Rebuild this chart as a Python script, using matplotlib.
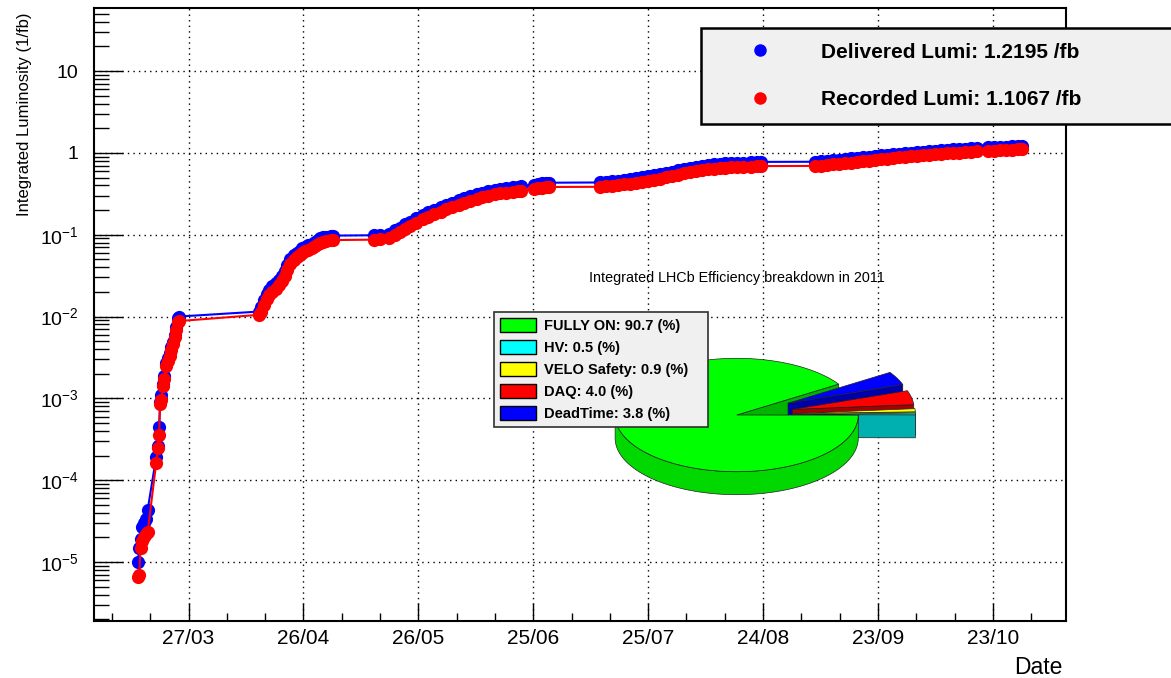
import numpy as np
import matplotlib
matplotlib.use("Agg")
import matplotlib.pyplot as plt
import matplotlib.dates as mdates
from matplotlib.lines import Line2D
from matplotlib.patches import Patch, Polygon
from matplotlib.ticker import FixedLocator, FixedFormatter, NullFormatter

plt.rcParams['font.family'] = ['Liberation Sans', 'DejaVu Sans']
plt.rcParams['mathtext.fontset'] = 'custom'
plt.rcParams['mathtext.rm'] = 'Liberation Sans'
plt.rcParams['mathtext.it'] = 'Liberation Sans:italic'
plt.rcParams['mathtext.bf'] = 'Liberation Sans:bold'

# fill day (day of year 2011) and integrated luminosity per fill, in 1/fb
fill_day = [
    72.82, 73.08, 73.47, 73.87, 74.26, 74.78, 75.30, 77.52, 78.04, 78.30, 78.56, 78.82,
    79.22, 79.61, 80.13, 80.52, 81.04, 81.43, 81.82, 82.35, 82.74, 83.13, 83.52,
    104.4, 104.8, 105.6, 106.4, 107.1, 107.9, 108.7, 109.5, 110.3, 111.1, 111.8, 112.6,
    113.4, 114.2, 115.0, 115.7, 116.5, 117.3, 118.1, 118.9, 119.7, 120.4, 121.2, 122.0,
    123.1, 123.8,
    134.3, 136.1, 138.2, 140.0, 141.3, 142.6, 143.9, 145.5, 147.1, 148.6, 150.2, 151.8,
    153.3, 154.9, 156.5, 158.0, 159.6, 161.2, 162.7, 164.3, 165.9, 167.4, 169.0, 170.6,
    172.1, 172.9, 176.3, 177.3, 178.4, 179.4, 180.2,
    193.5, 195.1, 196.6, 198.2, 199.8, 201.3, 202.9, 204.5, 206.0, 207.6, 209.2, 210.7,
    212.3, 213.9, 215.4, 217.0, 218.6, 220.1, 221.7, 223.3, 224.8, 226.1, 227.7, 229.3,
    230.8, 232.9, 234.5, 235.5,
    249.6, 251.2, 252.8, 254.3, 255.9, 257.5, 259.0, 260.6, 262.2, 263.7, 265.3, 266.8,
    268.4, 270.0, 271.5, 273.1, 274.7, 276.2, 277.8, 279.4, 280.9, 282.5, 284.1, 285.6,
    287.2, 288.8, 290.3, 291.9, 294.8, 296.3, 297.9, 299.5, 301.0, 302.6, 303.6,
]
delivered = [
    1.0e-5, 1.5e-5, 1.9e-5, 2.7e-5, 3.0e-5, 3.4e-5, 4.3e-5, 1.9e-4, 2.6e-4, 4.5e-4, 9.0e-4, 1.1e-3,
    1.5e-3, 1.9e-3, 2.7e-3, 3.1e-3, 3.6e-3, 4.2e-3, 4.9e-3, 6.0e-3, 7.5e-3, 9.6e-3, 1.0e-2,
    1.15e-2, 1.3e-2, 1.6e-2, 1.9e-2, 2.1e-2, 2.35e-2, 2.55e-2, 2.8e-2, 3.1e-2, 3.6e-2, 4.3e-2, 5.0e-2,
    5.6e-2, 6.0e-2, 6.4e-2, 6.8e-2, 7.1e-2, 7.4e-2, 7.8e-2, 8.2e-2, 8.6e-2, 9.0e-2, 9.3e-2, 9.5e-2,
    9.7e-2, 9.75e-2,
    0.0985, 0.0995, 0.102, 0.113, 0.122, 0.134, 0.145, 0.160, 0.176, 0.188, 0.202, 0.218,
    0.232, 0.247, 0.263, 0.278, 0.295, 0.312, 0.328, 0.340, 0.354, 0.363, 0.371, 0.379,
    0.386, 0.392, 0.408, 0.417, 0.424, 0.429, 0.432,
    0.435, 0.442, 0.450, 0.458, 0.467, 0.477, 0.489, 0.503, 0.517, 0.533, 0.549, 0.568,
    0.589, 0.611, 0.632, 0.652, 0.672, 0.690, 0.708, 0.725, 0.738, 0.746, 0.749, 0.752,
    0.757, 0.766, 0.772, 0.776,
    0.779, 0.786, 0.797, 0.810, 0.825, 0.839, 0.854, 0.870, 0.885, 0.901, 0.917, 0.934,
    0.951, 0.966, 0.981, 0.995, 1.009, 1.024, 1.039, 1.053, 1.066, 1.079, 1.092, 1.105,
    1.119, 1.131, 1.143, 1.155, 1.165, 1.175, 1.186, 1.195, 1.205, 1.213, 1.2195,
]
recorded = [
    6.5e-6, 7.0e-6, 1.5e-5, 1.8e-5, 2.0e-5, 2.2e-5, 2.3e-5, 1.6e-4, 2.5e-4, 3.6e-4, 8.5e-4, 9.5e-4,
    1.4e-3, 1.7e-3, 2.5e-3, 2.9e-3, 3.3e-3, 3.9e-3, 4.6e-3, 5.6e-3, 6.9e-3, 8.5e-3, 8.8e-3,
    1.05e-2, 1.15e-2, 1.38e-2, 1.62e-2, 1.82e-2, 2.02e-2, 2.2e-2, 2.42e-2, 2.7e-2, 3.1e-2, 3.75e-2, 4.4e-2,
    4.9e-2, 5.3e-2, 5.65e-2, 6.0e-2, 6.3e-2, 6.55e-2, 6.9e-2, 7.25e-2, 7.6e-2, 7.95e-2, 8.2e-2, 8.4e-2,
    8.55e-2, 8.6e-2,
    0.087, 0.088, 0.090, 0.100, 0.108, 0.118, 0.128, 0.141, 0.155, 0.166, 0.178, 0.192,
    0.205, 0.218, 0.232, 0.245, 0.260, 0.275, 0.289, 0.300, 0.312, 0.320, 0.327, 0.334,
    0.340, 0.345, 0.360, 0.368, 0.375, 0.380, 0.383,
    0.385, 0.391, 0.398, 0.405, 0.413, 0.422, 0.433, 0.445, 0.458, 0.472, 0.486, 0.503,
    0.522, 0.541, 0.560, 0.578, 0.596, 0.612, 0.628, 0.643, 0.655, 0.662, 0.665, 0.668,
    0.672, 0.680, 0.686, 0.690,
    0.693, 0.700, 0.710, 0.722, 0.735, 0.748, 0.762, 0.776, 0.790, 0.805, 0.820, 0.836,
    0.852, 0.866, 0.880, 0.893, 0.906, 0.920, 0.934, 0.947, 0.960, 0.972, 0.985, 0.997,
    1.010, 1.022, 1.034, 1.045, 1.055, 1.065, 1.075, 1.084, 1.093, 1.101, 1.1067,
]

x_tick_dates = ['2011-03-27', '2011-04-26', '2011-05-26', '2011-06-25',
                '2011-07-25', '2011-08-24', '2011-09-23', '2011-10-23']
y_ticks = [1e-5, 1e-4, 1e-3, 1e-2, 1e-1, 1, 10]
y_tick_labels = [r'$\mathregular{10^{-5}}$', r'$\mathregular{10^{-4}}$', r'$\mathregular{10^{-3}}$',
                 r'$\mathregular{10^{-2}}$', r'$\mathregular{10^{-1}}$', '1', '10']

# efficiency breakdown
eff_names = ['FULLY ON', 'HV', 'VELO Safety', 'DAQ', 'DeadTime']
eff_pct = [90.7, 0.5, 0.9, 4.0, 3.8]
eff_colors = ['#00ff00', '#00ffff', '#ffff00', '#ff0000', '#0000ff']
eff_dark = ['#00b400', '#00b0b0', '#b4b400', '#a80000', '#0000a8']

W, H = 1171, 678
fig = plt.figure(figsize=(W / 100, H / 100), dpi=100)
ax = fig.add_axes([94 / W, 1 - 621 / H, (1066 - 94) / W, (621 - 8) / H])

day0 = mdates.date2num(np.datetime64('2011-01-01'))
x = day0 + np.array(fill_day) - 1

ax.plot(x, delivered, '-', color='blue', lw=1.5, marker='o', ms=9.5, mew=0, zorder=3)
ax.plot(x, recorded, '-', color='red', lw=1.5, marker='o', ms=9.5, mew=0, zorder=4)

ax.set_yscale('log')
ax.set_ylim(1.9e-6, 59)
ax.set_xlim(day0 + 60.3, day0 + 314.1)

# ticks
ax.yaxis.set_major_locator(FixedLocator(y_ticks))
ax.yaxis.set_major_formatter(FixedFormatter(y_tick_labels))
minor_y = [m * 10.0 ** e for e in range(-6, 2) for m in range(2, 10)]
ax.yaxis.set_minor_locator(FixedLocator(minor_y))
ax.yaxis.set_minor_formatter(NullFormatter())

major_x = mdates.date2num(np.array(x_tick_dates, dtype='datetime64[D]'))
ax.xaxis.set_major_locator(FixedLocator(major_x))
ax.xaxis.set_major_formatter(mdates.DateFormatter('%d/%m'))
ax.xaxis.set_minor_locator(FixedLocator(np.arange(major_x[0] - 20, major_x[-1] + 30, 10)))

ax.tick_params(axis='y', which='major', direction='in', length=21, width=1, labelsize=14, pad=11)
ax.tick_params(axis='y', which='minor', direction='in', length=11, width=1)
ax.tick_params(axis='x', which='major', direction='in', length=13, width=1, labelsize=15, pad=6)
ax.tick_params(axis='x', which='minor', direction='in', length=6, width=1)
for sp in ax.spines.values():
    sp.set_linewidth(1.5)

ax.grid(True, which='major', color='black', linestyle=(0, (1, 3)), linewidth=1)
ax.set_axisbelow(True)

fig.text(25 / W, 1 - 13 / H, 'Integrated Luminosity (1/fb)', rotation=90,
         ha='center', va='top', fontsize=12)
fig.text(1063 / W, 1 - 674 / H, 'Date', ha='right', va='baseline', fontsize=16.5)

# main legend
handles = [
    Line2D([], [], ls='none', marker='o', color='blue', ms=9, mew=0),
    Line2D([], [], ls='none', marker='o', color='red', ms=9, mew=0),
]
labels = [f'Delivered Lumi: {delivered[-1]:.4f} /fb', f'Recorded Lumi: {recorded[-1]:.4f} /fb']
leg = ax.legend(handles, labels, loc='upper left', mode='expand',
                bbox_to_anchor=(701 / W, 1 - 123 / H, 480 / W, 95 / H),
                bbox_transform=fig.transFigure, borderaxespad=0,
                prop={'weight': 'bold', 'size': 15}, borderpad=0.7,
                handlelength=4.3, handletextpad=0.78, labelspacing=1.36,
                fancybox=False, framealpha=1)
leg.get_frame().set_facecolor('#f0f0f0')
leg.get_frame().set_edgecolor('black')
leg.get_frame().set_linewidth(1.8)

# efficiency pie, drawn in pixel coordinates on an overlay
pax = fig.add_axes([0, 0, 1, 1])
pax.set_xlim(0, W)
pax.set_ylim(H, 0)
pax.axis('off')

cx, cy, rx, ry, depth = 736.7, 415.0, 121.6, 56.7, 23.0
start_angle = 33.0
explode = 0.47

total = sum(eff_pct)
bounds = start_angle + 360.0 * np.concatenate([[0], np.cumsum(eff_pct)]) / total


def apex(i):
    if i == 0:
        return cx, cy
    mid = np.radians((bounds[i] + bounds[i + 1]) / 2)
    return cx + explode * rx * np.cos(mid), cy - explode * ry * np.sin(mid)


def rim(ox, oy, a1, a2, n=120):
    t = np.radians(np.linspace(a1, a2, n))
    return t, ox + rx * np.cos(t), oy - ry * np.sin(t)


def cut_faces(i):
    ox, oy = apex(i)
    for k, a in enumerate((bounds[i], bounds[i + 1])):
        c = np.cos(np.radians(a))
        if (k == 0 and c > 0) or (k == 1 and c < 0):
            px, py = ox + rx * c, oy - ry * np.sin(np.radians(a))
            pax.add_patch(Polygon([(ox, oy), (px, py), (px, py + depth), (ox, oy + depth)],
                                  closed=True, fc=eff_dark[i], ec='#202020', lw=0.5))


def side(i):
    ox, oy = apex(i)
    t, xs, ys = rim(ox, oy, bounds[i], bounds[i + 1])
    front = np.sin(t) < 0
    if front.sum() > 1:
        xs, ys = xs[front], ys[front]
        pts = list(zip(xs, ys)) + list(zip(xs[::-1], ys[::-1] + depth))
        pax.add_patch(Polygon(pts, closed=True, fc=eff_dark[i] if i else '#00d800',
                              ec='#202020', lw=0.5))


def top(i):
    ox, oy = apex(i)
    _, xs, ys = rim(ox, oy, bounds[i], bounds[i + 1])
    pts = [(ox, oy)] + list(zip(xs, ys))
    pax.add_patch(Polygon(pts, closed=True, fc=eff_colors[i], ec='#202020', lw=0.5))


back_to_front = [4, 3, 2, 1]
cut_faces(0)
for i in back_to_front:
    cut_faces(i)
side(0)
top(0)
for i in back_to_front:
    top(i)

pax.text(737, 278, 'Integrated LHCb Efficiency breakdown in 2011', ha='center', va='center',
         fontsize=10.4)

pie_handles = [Patch(fc=c, ec='black', lw=1) for c in eff_colors]
pie_labels = [f'{n}: {p:.1f} (%)' for n, p in zip(eff_names, eff_pct)]
pleg = pax.legend(pie_handles, pie_labels, loc='upper left', mode='expand',
                  bbox_to_anchor=(494 / W, 1 - 430 / H, 214 / W, 118 / H),
                  bbox_transform=fig.transFigure, borderaxespad=0,
                  prop={'weight': 'bold', 'size': 10.5}, borderpad=0.4,
                  handlelength=2.5, handleheight=1.08, handletextpad=0.55,
                  labelspacing=0.5, fancybox=False, framealpha=1)
pleg.get_frame().set_facecolor('#f0f0f0')
pleg.get_frame().set_edgecolor('#303030')
pleg.get_frame().set_linewidth(1.2)

fig.savefig('out.png', dpi=100)
